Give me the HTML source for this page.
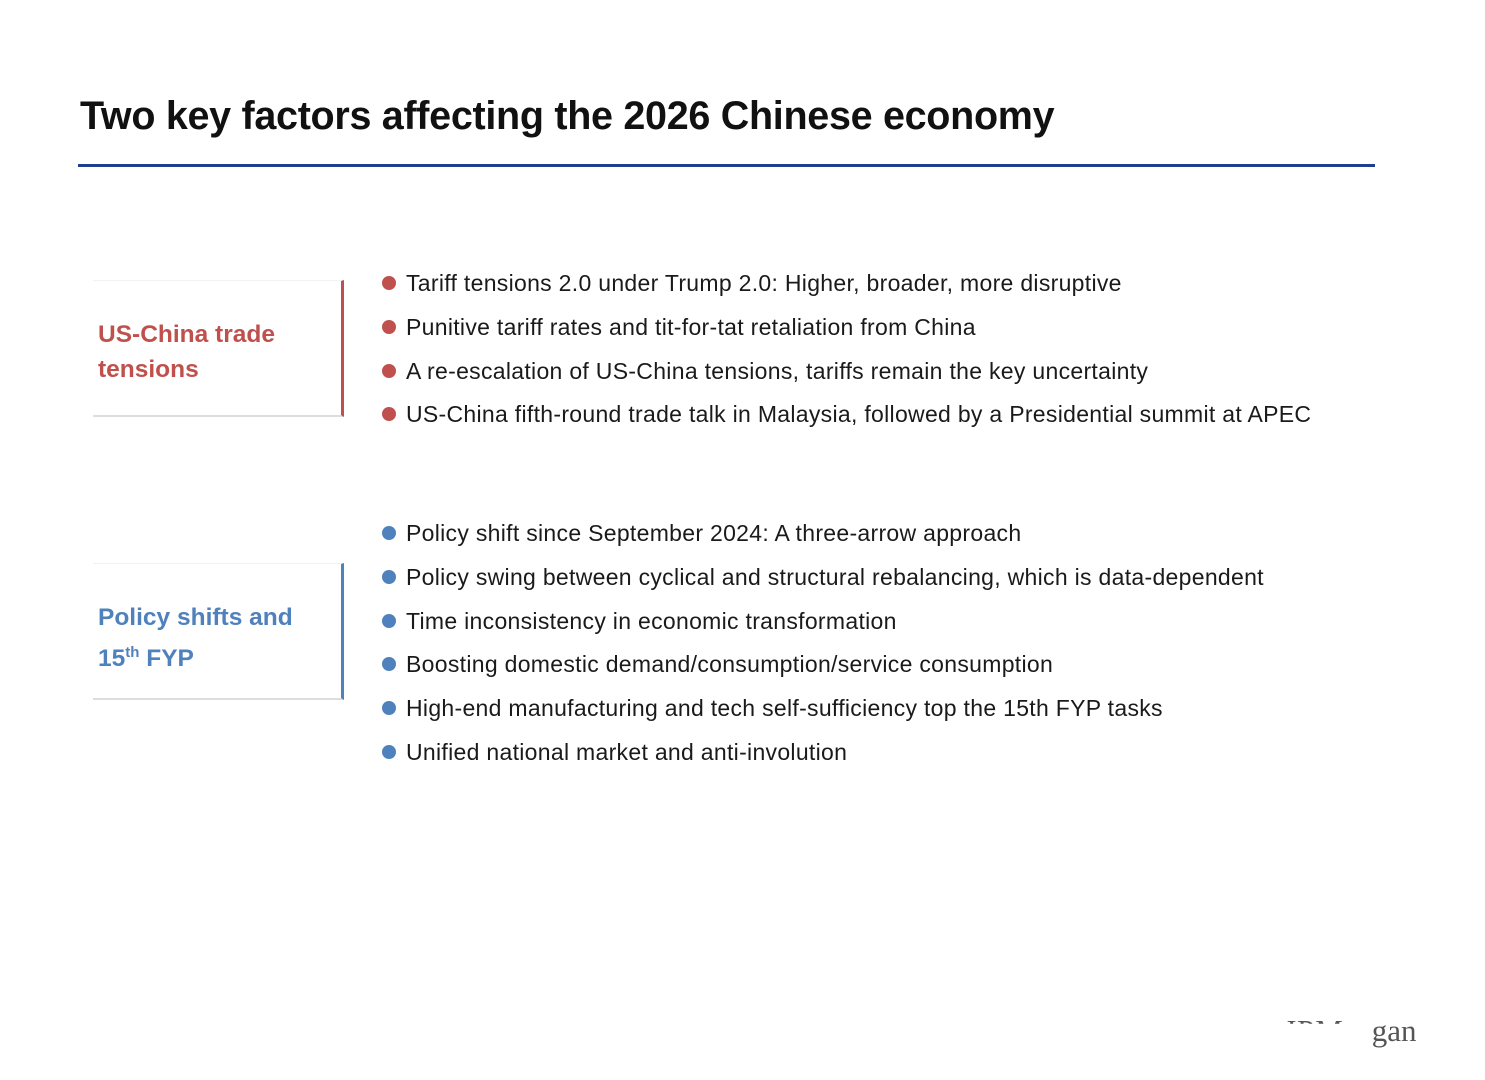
<!DOCTYPE html>
<html><head><meta charset="utf-8"><style>
body{margin:0;width:1485px;height:1080px;background:#fff;position:relative;overflow:hidden;font-family:"Liberation Sans",sans-serif;}
.abs{position:absolute;}
#title{left:80px;top:94px;font-size:39.5px;font-weight:bold;color:#111;white-space:nowrap;letter-spacing:-0.3px}
#rule{left:78px;top:164px;width:1297px;height:3px;background:#1f3f8f}
.box{left:93px;width:248px;border-bottom:2px solid #ddd;border-top:1px solid #f2f2f2;}
.lbl{position:absolute;left:5px;font-size:24.5px;font-weight:bold;line-height:35px}
.b{position:absolute;left:406px;font-size:23px;letter-spacing:0.3px;color:#1a1a1a;white-space:nowrap;line-height:26px}
.d{position:absolute;left:382px;width:14px;height:14px;border-radius:50%}
</style></head><body>
<div class="abs" id="title">Two key factors affecting the 2026 Chinese economy</div>
<div class="abs" id="rule"></div>

<div class="abs box" style="top:280px;height:134px;border-right:3px solid #c0504d">
<div class="lbl" style="top:36px;color:#c0504d">US-China trade<br>tensions</div></div>

<div class="abs box" style="top:563px;height:134px;border-right:3px solid #4f81bd">
<div class="lbl" style="top:36px;color:#4f81bd">Policy shifts and<br>15<sup style="font-size:15px">th</sup> FYP</div></div>

<div class="abs" style="left:1284px;top:1013px;font-family:'Liberation Serif',serif;font-size:31px;color:#555;height:44px;overflow:hidden;white-space:nowrap">
<span style="display:inline-block;clip-path:inset(0 0 70% 0);letter-spacing:1px">JPMor</span>gan</div>
<script>
const red=["Tariff tensions 2.0 under Trump 2.0: Higher, broader, more disruptive","Punitive tariff rates and tit-for-tat retaliation from China","A re-escalation of US-China tensions, tariffs remain the key uncertainty","US-China fifth-round trade talk in Malaysia, followed by a Presidential summit at APEC"];
const blue=["Policy shift since September 2024: A three-arrow approach","Policy swing between cyclical and structural rebalancing, which is data-dependent","Time inconsistency in economic transformation","Boosting domestic demand/consumption/service consumption","High-end manufacturing and tech self-sufficiency top the 15th FYP tasks","Unified national market and anti-involution"];
function add(list,y0,col,nm){list.forEach((t,i)=>{const y=y0+i*43.8;
const d=document.createElement('div');d.className='d';d.style.top=(y-7)+'px';d.style.background=col;


const b=document.createElement('div');b.className='b';b.style.top=(y-13)+'px';b.textContent=t;


document.body.appendChild(d);document.body.appendChild(b);});}
add(red,283,'#c0504d','trade');
add(blue,533,'#4f81bd','policy');
</script>
</body></html>
